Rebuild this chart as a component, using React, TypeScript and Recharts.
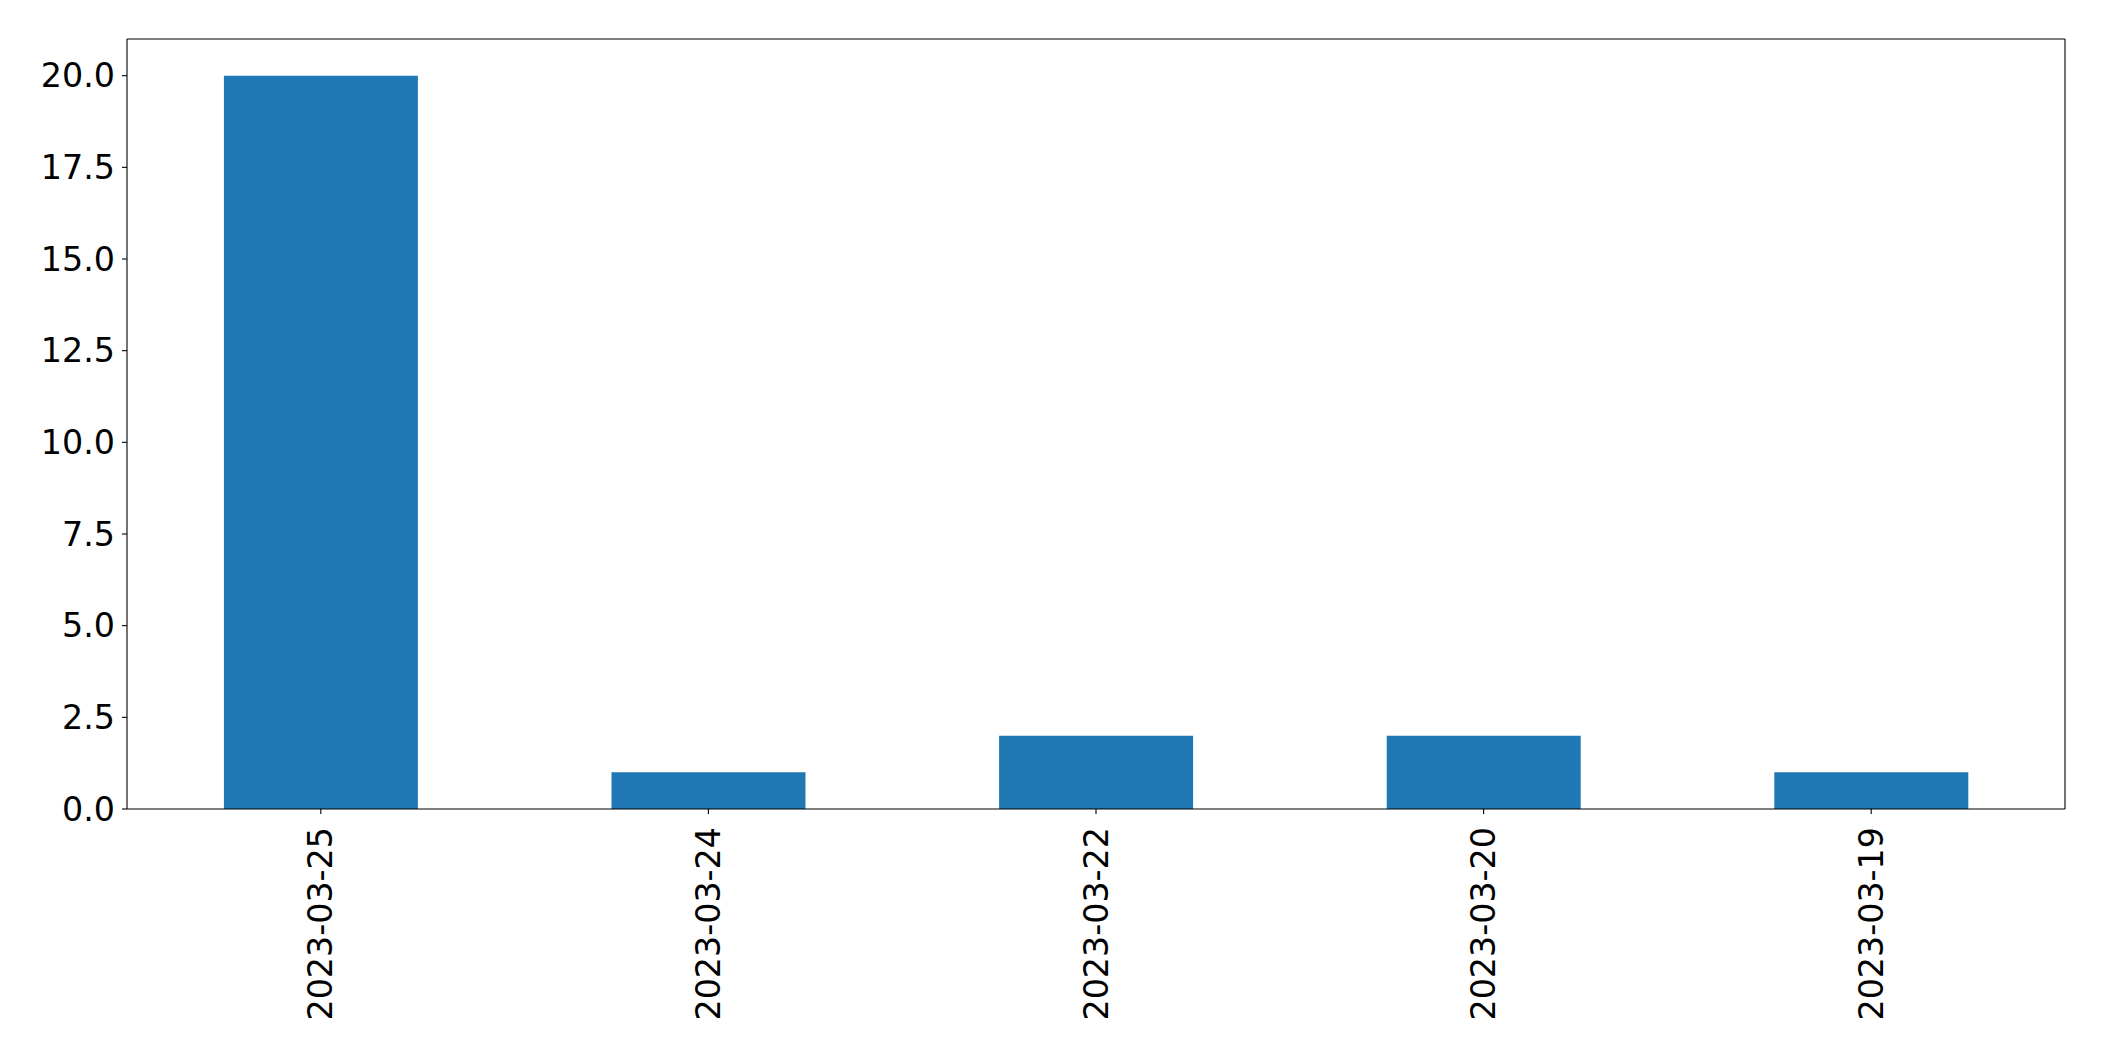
import React from 'react';
import { BarChart, Bar, XAxis, YAxis } from 'recharts';

// dates along the x axis, in the order they are drawn
const dates = ['2023-03-25', '2023-03-24', '2023-03-22', '2023-03-20', '2023-03-19'];
const counts = [20, 1, 2, 2, 1];
const yTicks = [0, 2.5, 5, 7.5, 10, 12.5, 15, 17.5, 20];

const FONT = 'DejaVu Sans, sans-serif';
const BAR_COLOR = '#1f77b4';

const chartData = dates.map((date, i) => ({ date, count: counts[i] }));

// rotated date label under each bar
const DateTick = (props: any) => {
  const { x, y, payload } = props;
  return (
    <g transform={`translate(${x},${y})`}>
      <text
        transform="rotate(-90)"
        textAnchor="end"
        dy="0.35em"
        fontFamily={FONT}
        fontSize={33.3}
        fill="#000"
      >
        {payload.value}
      </text>
    </g>
  );
};

export default function App() {
  return (
    <div style={{ position: 'absolute', left: 0, top: 0, background: '#fff' }}>
      <BarChart
        width={2104}
        height={1061}
        data={chartData}
        margin={{ top: 38, right: 38, left: 0, bottom: 0 }}
        barCategoryGap="25%"
      >
        <XAxis
          dataKey="date"
          interval={0}
          height={252}
          tickSize={5}
          tickMargin={13}
          axisLine={{ stroke: '#000', strokeWidth: 1.1 }}
          tickLine={{ stroke: '#000', strokeWidth: 1.1 }}
          tick={<DateTick />}
        />
        {/* top edge of the frame */}
        <XAxis
          xAxisId="top"
          dataKey="date"
          orientation="top"
          height={1}
          tick={false}
          tickLine={false}
          axisLine={{ stroke: '#000', strokeWidth: 1.1 }}
        />
        <YAxis
          domain={[0, 21]}
          ticks={yTicks}
          interval={0}
          width={127}
          tickSize={5}
          tickMargin={7}
          tickFormatter={(v: number) => v.toFixed(1)}
          axisLine={{ stroke: '#000', strokeWidth: 1.1 }}
          tickLine={{ stroke: '#000', strokeWidth: 1.1 }}
          tick={{ fontFamily: FONT, fontSize: 33.3, fill: '#000' }}
        />
        {/* right edge of the frame */}
        <YAxis
          yAxisId="right"
          orientation="right"
          domain={[0, 21]}
          width={1}
          tick={false}
          tickLine={false}
          axisLine={{ stroke: '#000', strokeWidth: 1.1 }}
        />
        <Bar dataKey="count" fill={BAR_COLOR} isAnimationActive={false} />
      </BarChart>
    </div>
  );
}
